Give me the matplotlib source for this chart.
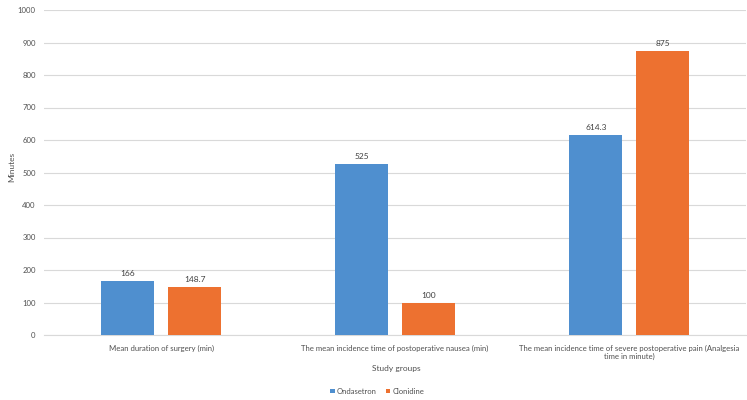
import numpy as np
import matplotlib.pyplot as plt

plt.rcParams['font.family'] = ['Lato', 'DejaVu Sans']

categories = [
    'Mean duration of surgery (min)',
    'The mean incidence time of postoperative nausea (min)',
    'The mean incidence time of severe postoperative pain (Analgesia\ntime in minute)',
]
ondasetron = [166, 525, 614.3]
clonidine = [148.7, 100, 875]
series_names = ['Ondasetron', 'Clonidine']
colors = ['#4F8FCF', '#ED7130']
text_color = '#505050'

fig = plt.figure(figsize=(7.47, 4.0), dpi=100)
ax = fig.add_axes([0.059, 0.1625, 0.94, 0.8125])

x = np.arange(len(categories))
w = 0.226
off = 0.143
for vals, name, c, sign in zip([ondasetron, clonidine], series_names, colors, [-1, 1]):
    bars = ax.bar(x + sign * off, vals, w, color=c, label=name, zorder=3)
    for b, v in zip(bars, vals):
        ax.text(b.get_x() + b.get_width() / 2, v + 12, f'{v:g}', ha='center', va='bottom',
                fontsize=6, color='#404040')

ax.set_xlim(-0.5, len(categories) - 0.5)
ax.set_ylim(0, 1000)
ax.set_yticks(np.arange(0, 1001, 100))
ax.set_xticks(x)
ax.set_xticklabels(categories, fontsize=5.6, color=text_color)
ax.tick_params(axis='y', labelsize=5.6, colors=text_color, length=0, pad=6)
ax.tick_params(axis='x', length=0, pad=7)
ax.grid(axis='y', color='#D9D9D9', linewidth=0.8, zorder=0)
for s in ['top', 'right', 'left']:
    ax.spines[s].set_visible(False)
ax.spines['bottom'].set_color('#D9D9D9')

fig.text(0.016, 0.582, 'Minutes', rotation=90, ha='center', va='center',
         fontsize=6, color=text_color)
fig.text(0.53, 0.0775, 'Study groups', ha='center', va='center', fontsize=6, color=text_color)
fig.legend(loc='center', bbox_to_anchor=(0.505, 0.022), ncol=2, frameon=False,
           fontsize=5.5, handlelength=0.6, handleheight=0.6, handletextpad=0.3,
           columnspacing=1.2, labelcolor=text_color)

fig.savefig('out.png', dpi=100)
